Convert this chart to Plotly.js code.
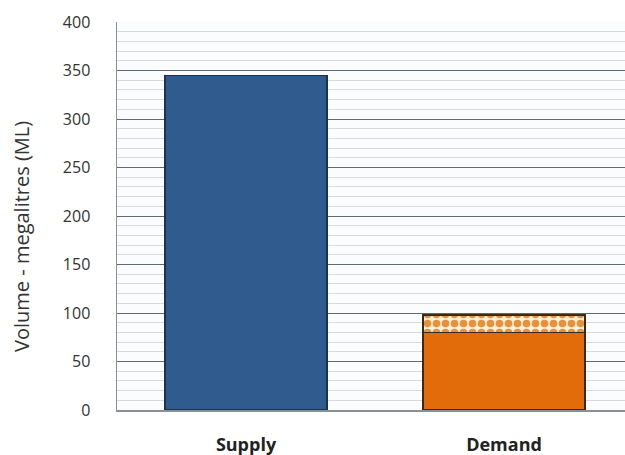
<!DOCTYPE html>
<html>
<head>
<meta charset="utf-8">
<script src="https://cdn.plot.ly/plotly-3.0.1.min.js"></script>
<style>html,body{margin:0;padding:0;background:#fff;} #chart{width:625px;height:455px;}</style>
</head>
<body>
<div id="chart"></div>
<script>
const categories = ["Supply", "Demand"];
const baseValues = [345, 80];
const extraValues = [0, 18];
const yTicks = [0, 50, 100, 150, 200, 250, 300, 350, 400];
const yTitle = "Volume - megalitres (ML)";

const traces = [
  {
    type: "bar",
    x: categories,
    y: baseValues,
    width: 0.628,
    marker: {
      color: ["#2f5b8f", "#e36c0a"],
      line: {color: ["#1c3350", "#3a2a1a"], width: 1.2}
    },
    hoverinfo: "x+y",
    showlegend: false
  },
  {
    type: "bar",
    x: categories,
    y: extraValues,
    width: 0.628,
    marker: {
      color: "#fbe3c0",
      pattern: {shape: ".", fgcolor: "#e8913a", bgcolor: "#fdeed6", size: 9, solidity: 0.55, fillmode: "replace"},
      line: {color: "#3a2a1a", width: 1.2}
    },
    hoverinfo: "x+y",
    showlegend: false
  }
];

const layout = {
  width: 625,
  height: 455,
  margin: {l: 117, r: 0, t: 22, b: 45},
  paper_bgcolor: "#ffffff",
  plot_bgcolor: "#fbfcfd",
  barmode: "stack",
  font: {family: "Open Sans, Liberation Sans, sans-serif", color: "#404040"},
  xaxis: {
    type: "category",
    range: [-0.5, 1.469],
    showgrid: false,
    showline: true,
    linecolor: "#8a8f92",
    linewidth: 1.5,
    ticks: "",
    ticklabelstandoff: 18,
    tickfont: {family: "Open Sans, Liberation Sans, sans-serif", size: 18, color: "#222222", weight: "bold"},
    fixedrange: true
  },
  yaxis: {
    range: [0, 400],
    tickvals: yTicks,
    ticktext: yTicks.map(String),
    showgrid: true,
    gridcolor: "#5d6a70",
    gridwidth: 1,
    zeroline: false,
    showline: true,
    linecolor: "#8a8f92",
    linewidth: 1.5,
    ticks: "",
    ticklabelstandoff: 22,
    tickfont: {family: "Open Sans, Liberation Sans, sans-serif", size: 16, color: "#333333"},
    minor: {dtick: 10, showgrid: true, gridcolor: "#d6dadd", gridwidth: 1},
    fixedrange: true
  },
  annotations: [
    {
      text: yTitle,
      xref: "paper", yref: "paper",
      x: -0.187, y: 0.446,
      xanchor: "center", yanchor: "middle",
      textangle: -90,
      showarrow: false,
      font: {family: "Open Sans, Liberation Sans, sans-serif", size: 20, color: "#333333"}
    }
  ],
  bargap: 0.37
};

Plotly.newPlot("chart", traces, layout, {displayModeBar: false, staticPlot: true});
</script>
</body>
</html>
